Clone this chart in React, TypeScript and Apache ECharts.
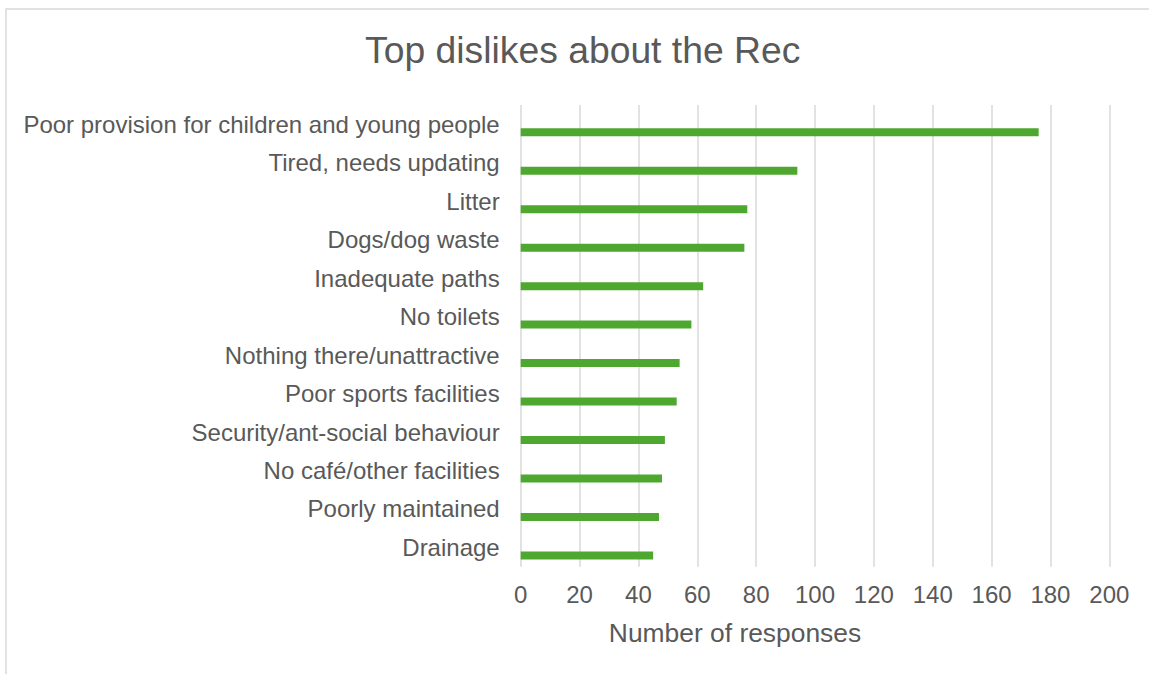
import React, { useEffect, useRef } from "react";
import * as echarts from "echarts";

const categories = [
  "Poor provision for children and young people",
  "Tired, needs updating",
  "Litter",
  "Dogs/dog waste",
  "Inadequate paths",
  "No toilets",
  "Nothing there/unattractive",
  "Poor sports facilities",
  "Security/ant-social behaviour",
  "No café/other facilities",
  "Poorly maintained",
  "Drainage",
];
const responses = [176, 94, 77, 76, 62, 58, 54, 53, 49, 48, 47, 45];
const spacer = categories.map(() => "-");

const TITLE = "Top dislikes about the Rec";
const X_NAME = "Number of responses";
const FONT = "'Liberation Sans', Arial, sans-serif";
const TEXT = "#595959";

export default function App() {
  const ref = useRef<HTMLDivElement>(null);
  useEffect(() => {
    if (!ref.current) return;
    const chart = echarts.init(ref.current, undefined, { renderer: "svg" });
    chart.setOption({
      animation: false,
      backgroundColor: "#ffffff",
      textStyle: { fontFamily: FONT },
      title: {
        text: TITLE,
        left: 365,
        top: 31,
        padding: 0,
        textStyle: { fontFamily: FONT, fontSize: 37.3, fontWeight: "normal", color: TEXT },
      },
      graphic: [
        {
          type: "rect",
          shape: { x: 6, y: 9, width: 2000, height: 2000 },
          style: { fill: "none", stroke: "#d9d9d9", lineWidth: 1.5 },
          silent: true,
        },
      ],
      grid: { left: 520.7, right: 39.7, top: 105, bottom: 107.3, containLabel: false },
      xAxis: {
        type: "value",
        min: 0,
        max: 200,
        interval: 20,
        name: X_NAME,
        nameLocation: "middle",
        nameGap: 53,
        nameTextStyle: { fontFamily: FONT, fontSize: 26.4, color: TEXT, padding: [0, 160, 0, 0] },
        axisLine: { show: false },
        axisTick: { show: false },
        axisLabel: { fontFamily: FONT, fontSize: 24, color: TEXT, margin: 16 },
        splitLine: { show: true, lineStyle: { color: "#d9d9d9", width: 1.5 } },
      },
      yAxis: {
        type: "category",
        data: categories,
        inverse: true,
        axisLine: { show: false },
        axisTick: { show: false },
        axisLabel: { fontFamily: FONT, fontSize: 24, color: TEXT, margin: 21 },
        splitLine: { show: false },
      },
      series: [
        {
          type: "bar",
          data: spacer,
          barWidth: 8,
          barGap: "100%",
          silent: true,
        },
        {
          type: "bar",
          name: X_NAME,
          data: responses,
          barWidth: 8,
          barGap: "100%",
          itemStyle: { color: "#4EA72E" },
        },
      ],
    });
    return () => chart.dispose();
  }, []);
  return (
    <div
      ref={ref}
      style={{ position: "fixed", left: 0, top: 0, width: 1149, height: 674 }}
    />
  );
}
